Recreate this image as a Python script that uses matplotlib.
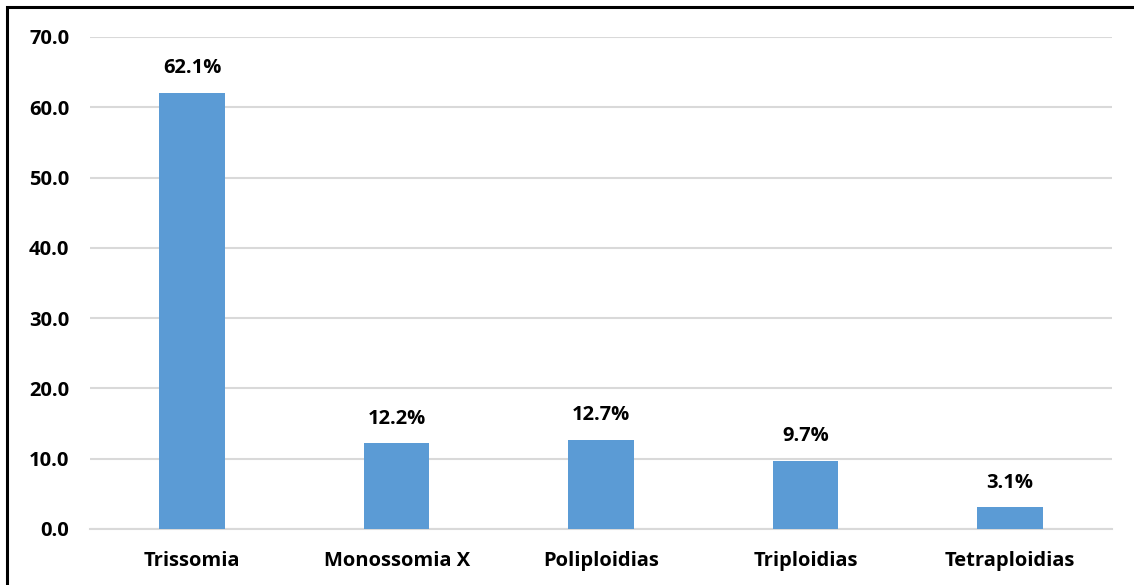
import matplotlib.pyplot as plt
from matplotlib.patches import Rectangle

categorias = ["Trissomia", "Monossomia X", "Poliploidias", "Triploidias", "Tetraploidias"]
percentuais = [62.1, 12.2, 12.7, 9.7, 3.1]
yticks = [0, 10, 20, 30, 40, 50, 60, 70]

plt.rcParams['font.family'] = ['Open Sans', 'DejaVu Sans']
plt.rcParams['font.weight'] = 'bold'

fig = plt.figure(figsize=(11.34, 5.85), dpi=100)
ax = fig.add_axes([90 / 1134, 1 - 529 / 585, 1022 / 1134, 492 / 585])

x = range(len(categorias))
bars = ax.bar(x, percentuais, width=0.32, color="#5B9BD5", zorder=3)
for b, v in zip(bars, percentuais):
    ax.text(b.get_x() + b.get_width() / 2, v + 3.5, f"{v:.1f}%",
            ha="center", va="center", fontsize=14.5, fontweight="bold", color="#000000")

ax.set_xlim(-0.5, len(categorias) - 0.5)
ax.set_ylim(0, 70)
ax.set_yticks(yticks)
ax.set_yticklabels([f"{t:.1f}" for t in yticks])
ax.set_xticks(list(x))
ax.set_xticklabels(categorias)
ax.tick_params(axis="both", length=0, labelsize=14.5, colors="#000000")
ax.tick_params(axis="y", pad=15)
ax.tick_params(axis="x", pad=16)
for lbl in ax.get_xticklabels() + ax.get_yticklabels():
    lbl.set_fontweight("bold")

ax.grid(axis="y", color="#D9D9D9", linewidth=1.5, zorder=0)
for s in ["top", "right", "left"]:
    ax.spines[s].set_visible(False)
ax.spines["bottom"].set_color("#D9D9D9")
ax.spines["bottom"].set_linewidth(1.5)

# moldura do gráfico
fig.patches.append(Rectangle((7 / 1134, -0.1), 1.2, 1.1 - 7 / 585,
                             transform=fig.transFigure, fill=False,
                             edgecolor="black", linewidth=2.2))

fig.savefig("out.png", dpi=100)
